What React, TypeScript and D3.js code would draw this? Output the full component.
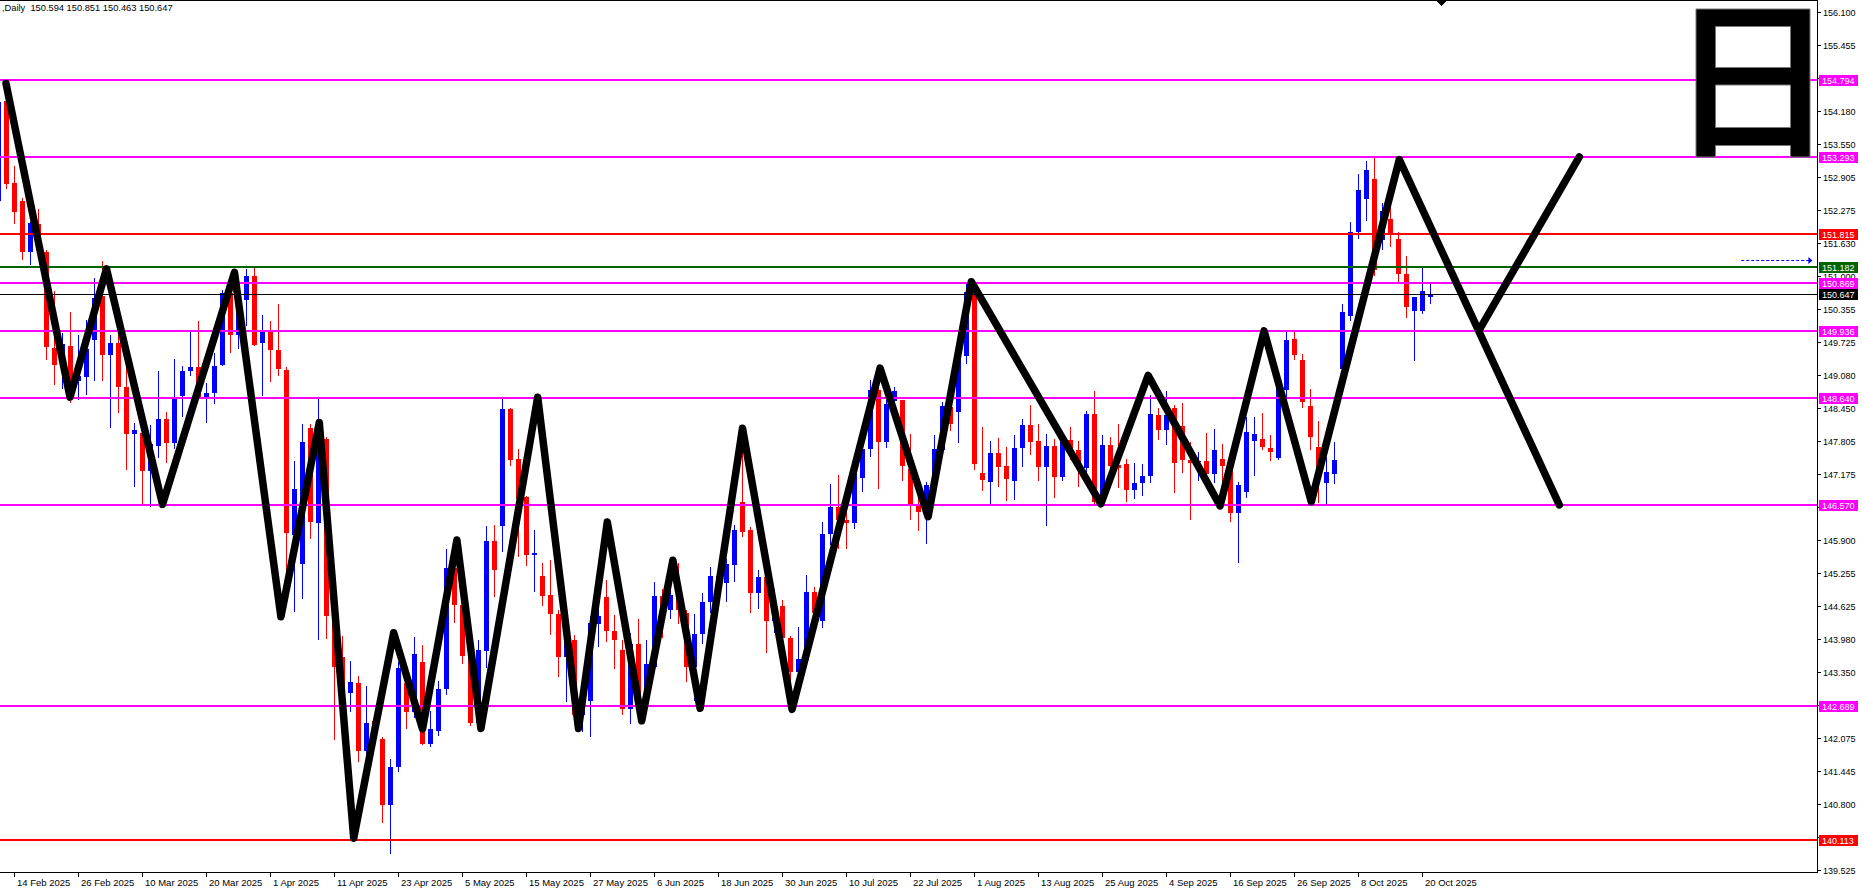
import React from 'react'
import * as d3 from 'd3'

// bar -1 is 12 Feb 2025, bar 178 is 21 Oct 2025 (daily USDJPY)
const FIRST_BAR = -1
const ohlc: [number, number, number, number][] = [
  [152.45, 154.80, 152.35, 154.37], [154.39, 154.47, 152.68, 152.78], [152.79, 153.13, 152.01, 152.23],
  [152.45, 152.50, 151.30, 151.46], [151.46, 152.05, 151.21, 152.03], [152.01, 152.30, 151.30, 151.50],
  [151.46, 151.50, 149.37, 149.62], [149.61, 150.71, 148.90, 149.28], [149.28, 149.90, 148.81, 149.69],
  [149.65, 150.30, 148.54, 148.94], [148.98, 149.87, 148.61, 149.07], [149.05, 150.16, 148.71, 149.60],
  [149.77, 150.97, 148.98, 150.58], [150.61, 151.29, 148.98, 149.47], [149.47, 149.87, 148.07, 149.71],
  [149.71, 149.91, 148.36, 148.86], [148.86, 149.25, 147.26, 147.94], [147.94, 148.17, 146.92, 148.02],
  [147.96, 148.05, 146.59, 147.23], [147.23, 148.12, 146.53, 147.75], [147.72, 149.17, 147.48, 148.23],
  [148.23, 148.37, 147.38, 147.77], [147.77, 149.39, 147.66, 148.64], [148.69, 149.27, 148.27, 149.17],
  [149.17, 149.91, 149.07, 149.25], [149.25, 150.14, 148.61, 148.63], [148.66, 148.93, 148.17, 148.74],
  [148.74, 149.52, 148.53, 149.27], [149.29, 150.73, 149.27, 150.68], [150.68, 150.80, 149.52, 149.87],
  [149.87, 150.60, 149.60, 150.53], [150.53, 151.14, 150.04, 151.00], [151.00, 151.19, 149.64, 149.67],
  [149.71, 150.24, 148.68, 149.91], [149.91, 150.14, 148.96, 149.57], [149.57, 150.46, 149.07, 149.20],
  [149.19, 149.25, 145.31, 146.03], [146.00, 147.42, 144.51, 146.89], [145.43, 148.14, 144.77, 147.79],
  [148.07, 148.15, 145.92, 146.25], [146.22, 148.63, 143.96, 148.19], [147.85, 147.90, 143.98, 144.43],
  [144.43, 144.62, 142.04, 143.44], [143.65, 144.05, 142.80, 143.00], [142.95, 143.57, 142.58, 143.15],
  [143.13, 143.28, 141.62, 141.82], [141.82, 143.08, 141.77, 142.36], [142.40, 142.50, 142.10, 142.20],
  [142.06, 142.10, 140.44, 140.78], [140.78, 141.67, 139.84, 141.52], [141.52, 143.54, 141.42, 143.42],
  [143.13, 143.35, 142.26, 142.58], [142.58, 144.03, 142.46, 143.69], [143.54, 143.88, 141.95, 141.97],
  [141.96, 142.60, 141.90, 142.26], [142.21, 143.17, 142.11, 143.03], [143.03, 145.73, 142.90, 145.36],
  [145.36, 145.70, 144.30, 144.64], [144.64, 144.70, 143.50, 143.66], [143.66, 143.70, 142.30, 142.36],
  [142.37, 143.97, 142.30, 143.78], [143.76, 146.17, 143.43, 145.89], [145.89, 146.19, 144.80, 145.33],
  [146.18, 148.62, 145.67, 148.44], [148.43, 148.45, 147.34, 147.44], [147.46, 147.66, 145.57, 146.70],
  [146.73, 146.76, 145.40, 145.62], [145.62, 146.09, 144.90, 145.65], [145.20, 145.46, 144.62, 144.81],
  [144.83, 145.51, 144.06, 144.48], [144.48, 144.54, 143.25, 143.64], [143.64, 144.54, 142.77, 144.00],
  [143.97, 144.06, 142.51, 142.53], [142.53, 142.90, 142.19, 142.70], [142.79, 144.44, 142.09, 144.30],
  [144.28, 144.83, 143.83, 144.44], [144.80, 145.12, 143.93, 144.14], [144.15, 144.45, 143.41, 143.97],
  [143.77, 143.97, 142.53, 142.64], [142.64, 144.10, 142.35, 143.90], [143.90, 144.38, 142.50, 142.80],
  [142.80, 143.96, 142.60, 143.50], [143.45, 145.09, 143.41, 144.81], [144.81, 144.95, 144.00, 144.55],
  [144.54, 144.93, 144.38, 144.83], [144.83, 145.46, 144.28, 144.54], [144.50, 144.54, 143.16, 143.45],
  [143.45, 144.48, 142.80, 144.08], [144.08, 144.88, 143.90, 144.70], [144.70, 145.38, 144.50, 145.20],
  [145.20, 145.40, 144.80, 145.05], [145.07, 145.54, 144.70, 145.44], [145.41, 146.20, 145.09, 146.09],
  [146.63, 148.00, 145.95, 146.05], [146.09, 146.16, 144.49, 144.88], [144.88, 145.32, 144.57, 145.19],
  [145.19, 145.20, 143.72, 144.33], [144.33, 144.95, 144.10, 144.62], [144.62, 144.75, 143.80, 144.00],
  [144.00, 144.04, 143.06, 143.35], [143.35, 144.23, 143.10, 143.60], [143.58, 145.22, 143.50, 144.89],
  [144.89, 145.00, 144.20, 144.50], [144.33, 146.25, 144.21, 146.01], [146.01, 146.98, 145.80, 146.54],
  [146.54, 147.16, 145.72, 146.29], [146.29, 146.47, 145.72, 146.22], [146.22, 147.44, 146.11, 147.28],
  [147.10, 147.79, 146.83, 147.66], [147.66, 149.00, 147.50, 148.80], [148.80, 149.10, 146.89, 147.79],
  [147.79, 148.60, 147.68, 148.52], [148.58, 148.85, 148.40, 148.77], [148.60, 148.61, 147.05, 147.33],
  [147.28, 147.95, 146.29, 146.60], [146.60, 147.05, 146.07, 146.44], [146.41, 147.02, 145.83, 146.97],
  [146.97, 147.92, 146.80, 147.65], [147.63, 148.57, 147.50, 148.48], [148.47, 148.60, 148.00, 148.14],
  [148.38, 149.50, 147.77, 149.45], [149.45, 150.85, 149.30, 150.70], [150.72, 150.85, 147.26, 147.37],
  [147.19, 148.08, 146.84, 147.06], [147.03, 147.82, 146.58, 147.58], [147.58, 147.88, 146.93, 147.32],
  [147.34, 147.70, 146.66, 147.07], [147.05, 147.92, 146.68, 147.67], [147.67, 148.24, 147.32, 148.13],
  [148.13, 148.50, 147.55, 147.80], [147.82, 148.15, 147.05, 147.32], [147.32, 147.95, 146.18, 147.72],
  [147.72, 147.85, 146.71, 147.12], [147.11, 147.88, 147.05, 147.83], [147.83, 148.09, 147.45, 147.64],
  [147.64, 147.82, 146.92, 147.29], [147.29, 148.40, 147.20, 148.33], [148.33, 148.77, 146.60, 146.63],
  [146.76, 147.92, 146.60, 147.74], [147.74, 147.90, 147.00, 147.34], [147.35, 148.15, 146.90, 147.30],
  [147.36, 147.47, 146.63, 146.87], [146.87, 147.39, 146.69, 147.00], [147.00, 147.37, 146.76, 147.14],
  [147.13, 148.70, 147.00, 148.33], [148.32, 148.46, 147.84, 148.03], [148.03, 148.77, 147.74, 148.32],
  [148.46, 148.50, 146.80, 147.38], [148.11, 148.55, 147.20, 147.45], [147.45, 147.80, 146.29, 147.38],
  [147.40, 147.60, 147.05, 147.43], [147.43, 147.97, 146.90, 147.17], [147.17, 148.04, 147.00, 147.64],
  [147.46, 147.75, 146.95, 147.33], [147.24, 147.27, 146.24, 146.43], [146.43, 147.03, 145.45, 146.97],
  [146.82, 148.27, 146.72, 147.98], [147.82, 148.27, 147.14, 147.95], [147.85, 148.35, 147.64, 147.69],
  [147.68, 147.92, 147.42, 147.61], [147.48, 148.90, 147.45, 148.88], [148.80, 149.91, 148.60, 149.76],
  [149.78, 149.91, 149.38, 149.47], [149.38, 149.49, 148.46, 148.56], [148.48, 148.82, 147.63, 147.90],
  [147.70, 148.20, 146.61, 147.17], [147.01, 147.50, 146.58, 147.22], [147.17, 147.80, 146.98, 147.45],
  [149.20, 150.46, 149.00, 150.31], [150.22, 152.04, 150.14, 151.86], [151.86, 152.97, 151.72, 152.67],
  [152.48, 153.23, 152.06, 153.05], [152.87, 153.29, 151.00, 151.12], [151.70, 152.42, 151.50, 152.26],
  [152.10, 152.36, 151.57, 151.80], [151.72, 151.86, 150.88, 151.04], [151.03, 151.39, 150.19, 150.40],
  [150.32, 150.60, 149.35, 150.59], [150.33, 151.15, 150.27, 150.72], [150.594, 150.851, 150.463, 150.647],
]

// date labels sit on every 8th bar starting at bar 1
const dateLabels = [
  '14 Feb 2025', '26 Feb 2025', '10 Mar 2025', '20 Mar 2025', '1 Apr 2025', '11 Apr 2025',
  '23 Apr 2025', '5 May 2025', '15 May 2025', '27 May 2025', '6 Jun 2025', '18 Jun 2025',
  '30 Jun 2025', '10 Jul 2025', '22 Jul 2025', '1 Aug 2025', '13 Aug 2025', '25 Aug 2025',
  '4 Sep 2025', '16 Sep 2025', '26 Sep 2025', '8 Oct 2025', '20 Oct 2025',
]

const priceTicks = [
  156.1, 155.455, 154.82, 154.18, 153.55, 152.905, 152.275, 151.63, 151.0, 150.355, 149.725,
  149.08, 148.45, 147.805, 147.175, 146.535, 145.9, 145.255, 144.625, 143.98, 143.35, 142.71,
  142.075, 141.445, 140.8, 140.16, 139.525,
]

const levels = [
  { price: 154.794, color: '#ff00ff' },
  { price: 153.293, color: '#ff00ff' },
  { price: 151.815, color: '#ff0000' },
  { price: 151.182, color: '#006400' },
  { price: 150.869, color: '#ff00ff' },
  { price: 149.936, color: '#ff00ff' },
  { price: 148.64, color: '#ff00ff' },
  { price: 146.57, color: '#ff00ff' },
  { price: 142.689, color: '#ff00ff' },
  { price: 140.113, color: '#ff0000' },
]
const lastPrice = 150.647

// hand-drawn zigzag: [bar index, price]
const zigzag: [number, number][] = [
  [-0.06, 154.72], [7.94, 148.66], [12.5, 151.14], [19.5, 146.59], [28.5, 151.07], [34.3, 144.42],
  [39.1, 148.17], [43.4, 140.14], [48.4, 144.11], [52.0, 142.25], [56.3, 145.9], [59.3, 142.26],
  [66.4, 148.66], [71.5, 142.26], [75.1, 146.25], [79.4, 142.41], [83.3, 145.51], [86.7, 142.65],
  [92.0, 148.06], [98.2, 142.63], [109.2, 149.22], [115.2, 146.35], [120.6, 150.89], [136.8, 146.6],
  [142.7, 149.08], [151.7, 146.56], [157.2, 149.94], [163.1, 146.64], [174.1, 153.25], [194.1, 146.58],
]
const zigzagBranch: [number, number][] = [[184.1, 149.96], [196.6, 153.3]]
const targetArrow = { from: 216.9, to: 225.8, price: 151.315 }

const header = ',Daily  150.594 150.851 150.463 150.647'

const FONT = "'Liberation Sans', Arial, sans-serif"

export default function App() {
  const W = 1862
  const H = 890
  const right = 1817
  const bottom = 873

  const x = d3.scaleLinear().domain([0, 1]).range([6, 14])
  const y = d3.scaleLinear().domain([139.525, 156.1]).range([870.1, 12])
  const py = (p: number) => Math.round(y(p))

  const line = d3.line<[number, number]>().x(d => x(d[0]) + 0.5).y(d => y(d[1]))

  return (
    <div>
      <style>{'body{margin:0;background:#fff}'}</style>
      <svg width={W} height={H} style={{ display: 'block', fontFamily: FONT }}>
        <defs>
          <clipPath id="plot">
            <rect x={0} y={0} width={right} height={bottom} />
          </clipPath>
        </defs>
        <rect x={0} y={0} width={W} height={H} fill="#fff" />

        <g clipPath="url(#plot)" shapeRendering="crispEdges">
          {ohlc.map((d, i) => {
            const [o, h, l, c] = d
            const cx = Math.round(x(i + FIRST_BAR))
            const col = c >= o ? '#0000ff' : '#ff0000'
            const bt = py(Math.max(o, c))
            const bb = py(Math.min(o, c))
            return (
              <g key={i}>
                <rect x={cx} y={py(h)} width={1} height={Math.max(1, py(l) - py(h))} fill={col} />
                <rect x={cx - 2} y={bt} width={5} height={Math.max(1, bb - bt)} fill={col} />
              </g>
            )
          })}

          {levels.map(lv => (
            <rect key={lv.price} x={0} y={py(lv.price) - 1} width={right} height={2} fill={lv.color} />
          ))}
          <rect x={0} y={py(lastPrice)} width={right} height={1} fill="#000" />
        </g>

        <g clipPath="url(#plot)">
          <path d={line(zigzag) || ''} fill="none" stroke="#000" strokeWidth={7.5}
            strokeLinejoin="round" strokeLinecap="round" />
          <path d={line(zigzagBranch) || ''} fill="none" stroke="#000" strokeWidth={7.5}
            strokeLinejoin="round" strokeLinecap="round" />
          <line x1={x(targetArrow.from)} x2={x(targetArrow.to) - 3} y1={py(targetArrow.price) + 0.5}
            y2={py(targetArrow.price) + 0.5} stroke="#0000ff" strokeWidth={1} strokeDasharray="3,2" />
          <path d={`M${x(targetArrow.to) - 4},${py(targetArrow.price) - 3}L${x(targetArrow.to)},${py(targetArrow.price) + 0.5}L${x(targetArrow.to) - 4},${py(targetArrow.price) + 4}Z`} fill="#0000ff" />
        </g>

        {/* logo block top right */}
        <path
          d="M1696,9H1810V157H1790.5V145.5H1715.5V157H1696Z M1715.5,26.5V67.5H1790.5V26.5Z M1715.5,85V127.5H1790.5V85Z"
          fill="#000" fillRule="evenodd" stroke="#777" strokeWidth={1} />

        {/* frame */}
        <g shapeRendering="crispEdges">
          <rect x={0} y={0} width={right} height={1} fill="#000" />
          <rect x={right} y={0} width={1} height={bottom} fill="#000" />
          <rect x={0} y={bottom - 1} width={right + 1} height={1} fill="#000" />
          <path d={`M1436,1L1446,1L1441,6Z`} fill="#000" />
        </g>

        <text x={2} y={11} fontSize={9.3} fill="#000" style={{ whiteSpace: 'pre' }}>{header}</text>

        {/* price axis */}
        <g fontSize={9} fill="#000">
          {priceTicks.map(t => (
            <g key={t}>
              <rect x={right} y={py(t)} width={4} height={1} fill="#000" />
              <text x={1823} y={py(t) + 3.5}>{t.toFixed(3)}</text>
            </g>
          ))}
        </g>
        <g fontSize={9}>
          {levels.map(lv => (
            <g key={lv.price}>
              <rect x={1819} y={py(lv.price) - 5} width={39} height={11} fill={lv.color} />
              <text x={1822} y={py(lv.price) + 3.5} fill="#fff">{lv.price.toFixed(3)}</text>
            </g>
          ))}
          <rect x={1819} y={py(lastPrice) - 5} width={39} height={11} fill="#000" />
          <text x={1822} y={py(lastPrice) + 3.5} fill="#fff">{lastPrice.toFixed(3)}</text>
        </g>

        {/* date axis */}
        <g fontSize={9.5} fill="#000">
          {dateLabels.map((lab, j) => {
            const tx = Math.round(x(1 + 8 * j))
            return (
              <g key={lab}>
                <rect x={tx} y={bottom} width={1} height={4} fill="#000" />
                <text x={tx + 3} y={886}>{lab}</text>
              </g>
            )
          })}
        </g>
      </svg>
    </div>
  )
}
